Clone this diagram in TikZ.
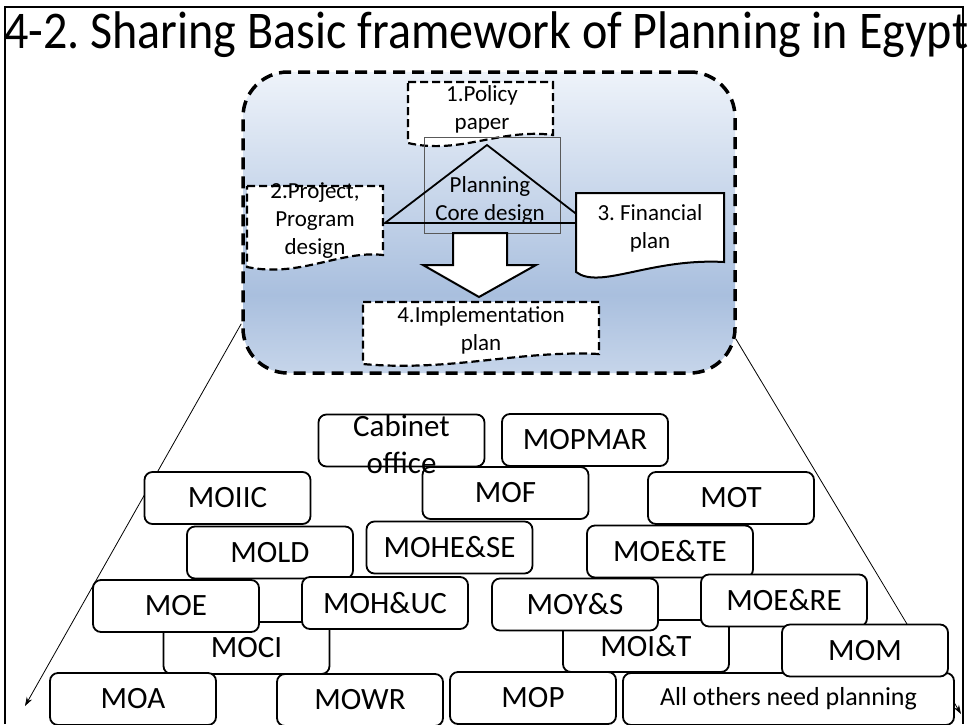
\documentclass[tikz,border=0pt]{standalone}
\usepackage{fontspec}
\setmainfont{Carlito}
\usetikzlibrary{arrows.meta,calc}
\definecolor{skytop}{HTML}{EEF3FA}
\definecolor{skymid}{HTML}{A9BFDE}
\definecolor{skybot}{HTML}{C6D5EA}
\pgfdeclareverticalshading{skyfade}{100bp}{color(0bp)=(skybot); color(25bp)=(skybot); color(38bp)=(skymid); color(75bp)=(skytop); color(100bp)=(skytop)}
\frenchspacing

\begin{document}
\begin{tikzpicture}[x=1pt,y=-1pt,
    mbox/.style={draw,line width=1.8pt,rounded corners=8pt,fill=white,minimum width=166pt,minimum height=52pt,inner sep=0pt,font=\fontsize{31}{37}\selectfont},
    dashdoc/.style={draw,line width=2.2pt,dash pattern=on 8pt off 4pt,fill=white},
    doctext/.style={align=center,inner sep=0pt,font=\fontsize{23}{28}\selectfont},
    link/.style={line width=0.8pt,-{Stealth[length=9pt,width=6pt]}}]
    \useasboundingbox (0,0) rectangle (971,724);
    \fill[white] (0,0) rectangle (971,724);
    \draw[line width=2pt] (5,724) -- (5,7) -- (963,7) -- (963,724);
    \node[anchor=base west,inner sep=0pt,font=\fontsize{53}{60}\selectfont] (title) at (4,48) {\scalebox{0.907}[1]{4-2. Sharing Basic framework of Planning in Egypt}};
    \node[draw,line width=3.5pt,dash pattern=on 12pt off 7pt,rounded corners=45pt,shade,shading=skyfade,minimum width=492pt,minimum height=301pt] (frame) at (489,222.5) {};
    \coordinate (lend) at (25,706);
    \coordinate (rend) at (961,714);
    \draw[link] ($(frame.south west)+(0,-51)$) -- (lend);
    \draw[link] ($(frame.south east)+(-1,-36)$) -- (rend);
    \draw[dashdoc] (408,82) -- (553,82) -- (553,135) .. controls (500,128) and (460,155) .. (408,143) -- cycle;
    \node[doctext] (policy) at (482,109) {1.Policy\\paper};
    \draw[gray!70!black,line width=0.8pt] (424,137) rectangle (560,233);
    \draw[line width=1.8pt] (385,223) -- (487,145) -- (588,223) -- cycle;
    \node[doctext] (core) at (490,200) {Planning\\Core design};
    \draw[dashdoc] (247,186) -- (383,186) -- (383,255) .. controls (340,250) and (300,278) .. (247,267) -- cycle;
    \node[doctext] (project) at (315,221) {2.Project,\\Program\\design};
    \draw[line width=2pt,fill=white] (576,193) -- (724,193) -- (724,262) .. controls (650,258) and (600,290) .. (576,272) -- cycle;
    \node[doctext] (finance) at (650,228) {3. Financial\\plan};
    \draw[line width=2pt,fill=white] (453,233) -- (507,233) -- (507,265) -- (536,265) -- (479,297) -- (423,265) -- (453,265) -- cycle;
    \draw[dashdoc] (363,302) -- (599,302) -- (599,354) .. controls (520,350) and (450,372) .. (363,364) -- cycle;
    \node[doctext] (impl) at (481,330) {4.Implementation\\plan};
    \node[mbox] (cab) at (401.5,440.5) {};
    \node[mbox] (mopmar) at (585,440) {MOPMAR};
    \node[mbox] (mof) at (505.5,493) {MOF};
    \node[mbox] (moiic) at (227.5,498) {MOIIC};
    \node[mbox] (mot) at (731,498) {MOT};
    \node[mbox] (mold) at (270,552.5) {MOLD};
    \node[mbox] (mohese) at (449.5,547.5) {MOHE\&SE};
    \node[mbox] (moete) at (670,551.5) {MOE\&TE};
    \node[mbox] (moci) at (246.5,648) {MOCI};
    \node[mbox] (mohuc) at (385,603) {MOH\&UC};
    \node[mbox] (moe) at (176,606) {MOE};
    \node[mbox] (moit) at (646,646) {MOI\&T};
    \node[mbox] (moys) at (575,604.5) {MOY\&S};
    \node[mbox] (moere) at (784,600.5) {MOE\&RE};
    \node[mbox] (moa) at (133,699) {MOA};
    \node[mbox] (mowr) at (360,700) {MOWR};
    \node[mbox] (mop) at (533,698) {MOP};
    \node[mbox,minimum width=331pt,font=\fontsize{26}{31}\selectfont] (others) at (788.5,699) {All others need planning};
    \node[mbox] (mom) at (865,650.5) {MOM};
    \node[align=center,inner sep=0pt,font=\fontsize{31}{37}\selectfont] (cabtext) at (401.5,444) {Cabinet\\office};
\end{tikzpicture}
\end{document}
